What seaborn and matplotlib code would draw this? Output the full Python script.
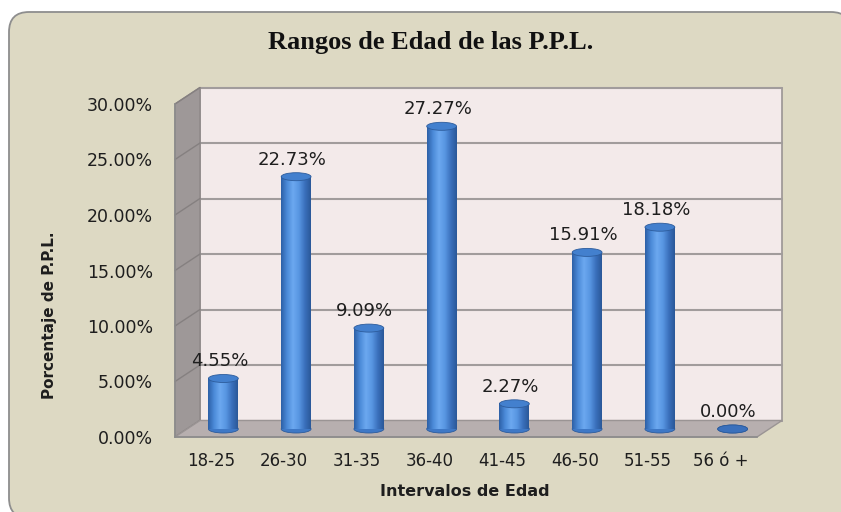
import numpy as np
import pandas as pd
import seaborn as sns
import matplotlib.pyplot as plt
from matplotlib.patches import Polygon, Ellipse, FancyBboxPatch, Rectangle
from matplotlib.colors import LinearSegmentedColormap

# Datos del grafico
categorias = ["18-25", "26-30", "31-35", "36-40", "41-45", "46-50", "51-55", "56 ó +"]
porcentajes = [4.55, 22.73, 9.09, 27.27, 2.27, 15.91, 18.18, 0.00]
yticks = [0, 5, 10, 15, 20, 25, 30]

df = pd.DataFrame({"rango": categorias, "pct": porcentajes})

sns.set_style("white")
plt.rcParams["font.family"] = ["DejaVu Sans"]

fig = plt.figure(figsize=(8.41, 5.12), dpi=100)
fig.patch.set_facecolor("white")

# panel beige con esquinas redondeadas
panel = FancyBboxPatch((0.09, -0.06), 8.42, 5.06,
                       boxstyle="round,pad=0,rounding_size=0.2",
                       transform=fig.dpi_scale_trans, facecolor="#DDD9C3",
                       edgecolor="#8E8E8E", linewidth=1.3, zorder=-5)
fig.patches.append(panel)

ax = fig.add_axes([175 / 841, 75 / 512, 582 / 841, 333 / 512])
ax.set_zorder(1)
ax.patch.set_visible(False)
ax.set_xlim(-0.5, 7.5)
ax.set_ylim(0, 30)

# pixeles por unidad de datos
p0 = ax.transData.transform((0, 0))
p1 = ax.transData.transform((1, 1))
ppx, ppy = p1 - p0

def desplazar(x, y, dx, dy):
    return (x + dx / ppx, y + dy / ppy)

fondo = (25, 16.5)   # profundidad de la pared del fondo
medio = (12, 8)      # profundidad de las barras

# pared del fondo
x0, x1 = -0.5, 7.5
bx0, by0 = desplazar(x0, 0, *fondo)
bx1, by1 = desplazar(x1, 30, *fondo)
ax.add_patch(Rectangle((bx0, by0), bx1 - bx0, by1 - by0, facecolor="#F3EAEA",
                       edgecolor="#9A9494", lw=1.2, zorder=0.5, clip_on=False))
for t in yticks:
    ya = desplazar(x0, t, *fondo)
    yb = desplazar(x1, t, *fondo)
    ax.plot([ya[0], yb[0]], [ya[1], yb[1]], color="#A19C9C", lw=1.5, zorder=0.6, clip_on=False)

# pared izquierda
izq = [(x0, 0), (x0, 30), desplazar(x0, 30, *fondo), desplazar(x0, 0, *fondo)]
ax.add_patch(Polygon(izq, closed=True, facecolor="#9E9898", edgecolor="#8E8888",
                     lw=1.0, zorder=0.7, clip_on=False))
for t in yticks:
    a = desplazar(x0, t, *fondo)
    ax.plot([x0, a[0]], [t, a[1]], color="#858080", lw=1.0, zorder=0.8, clip_on=False)

# piso
piso = [(x0, 0), (x1, 0), desplazar(x1, 0, *fondo), desplazar(x0, 0, *fondo)]
ax.add_patch(Polygon(piso, closed=True, facecolor="#B7AFAF", edgecolor="#9A9494",
                     lw=1.0, zorder=0.9, clip_on=False))

# barras (cilindros)
sns.barplot(data=df, x="rango", y="pct", color="#4A86D2", width=0.41,
            saturation=1, ax=ax, zorder=2)
ax.set_xlim(-0.5, 7.5)
ax.set_ylim(0, 30)

cyl = LinearSegmentedColormap.from_list(
    "cyl", ["#2C5FA6", "#4B8AD8", "#6CA8F0", "#5896E2", "#3A70BC", "#2A5898"])
grad = np.linspace(0, 1, 200).reshape(1, -1)
dxd, dyd = medio[0] / ppx, medio[1] / ppy
eh = 8 / ppy

for patch, v in zip(ax.patches[-len(categorias):], porcentajes):
    bx, bw, bh = patch.get_x() + dxd, patch.get_width(), patch.get_height()
    by = dyd
    patch.set_visible(False)
    cx = bx + bw / 2
    ax.add_patch(Ellipse((cx, by), bw, eh, facecolor="#3E78C6", edgecolor="#2D5C9C",
                         lw=0.6, zorder=2.5, clip_on=False))
    if bh > 0:
        ax.imshow(grad, cmap=cyl, extent=[bx, bx + bw, by, by + bh], aspect="auto",
                  zorder=3, interpolation="bilinear")
    ax.add_patch(Ellipse((cx, by + bh), bw, eh, facecolor="#4380CE" if bh > 0 else "#3A70BC",
                         edgecolor="#2D5C9C", lw=0.6, zorder=4, clip_on=False))
    ax.text(cx - 4 / ppx, by + bh + 17 / ppy, f"{v:.2f}%", ha="center", va="center",
            fontsize=13, color="#1E1E1E", zorder=5)

ax.set_xlim(-0.5, 7.5)
ax.set_ylim(0, 30)

# ejes frontales
for s in ["top", "right"]:
    ax.spines[s].set_visible(False)
for s in ["left", "bottom"]:
    ax.spines[s].set_color("#8C8C8C")
    ax.spines[s].set_linewidth(1.2)
    ax.spines[s].set_zorder(6)

ax.set_yticks(yticks)
ax.set_yticklabels([f"{t:.2f}%" for t in yticks])
ax.tick_params(axis="y", direction="out", length=6, width=1.2, color="#8C8C8C",
               pad=10, labelsize=12.5, labelcolor="#1E1E1E")
ax.set_xticks(range(len(categorias)))
ax.set_xticklabels(categorias)
ax.set_xticks(np.arange(-0.5, 8, 1), minor=True)
ax.tick_params(axis="x", which="major", length=0, pad=11, labelsize=12,
               labelcolor="#1E1E1E")
ax.tick_params(axis="x", which="minor", direction="out", length=5, width=1.2,
               color="#8C8C8C")
ax.set_xlabel("")
ax.set_ylabel("")

fig.text(431 / 841, 1 - 43 / 512, "Rangos de Edad de las P.P.L.",
         family=["Liberation Serif", "DejaVu Serif"], fontweight="bold",
         fontsize=19, ha="center", va="center", color="#111111")
fig.text(465 / 841, 1 - 492 / 512, "Intervalos de Edad", fontweight="bold",
         fontsize=11.5, ha="center", va="center", color="#1E1E1E")
fig.text(50 / 841, 1 - 315 / 512, "Porcentaje de P.P.L.", fontweight="bold",
         fontsize=11, rotation=90, ha="center", va="center", color="#1E1E1E")

fig.savefig("out.png", dpi=100)
